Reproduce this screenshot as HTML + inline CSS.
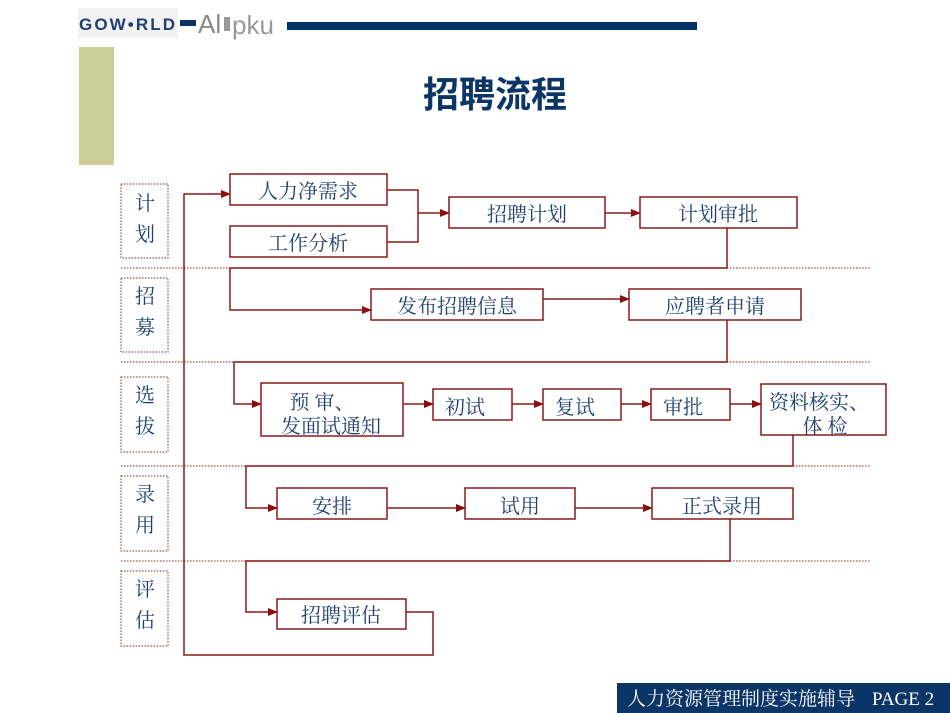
<!DOCTYPE html>
<html><head><meta charset="utf-8"><style>
html,body{margin:0;padding:0;background:#fff;}
svg{display:block;}
text{font-family:"Liberation Serif","Noto Serif CJK SC","Noto Sans CJK SC",serif;}
</style></head><body>
<svg width="950" height="713" viewBox="0 0 950 713" xmlns="http://www.w3.org/2000/svg">
<defs>
<marker id="a" markerWidth="10" markerHeight="8" refX="9" refY="4" orient="auto" markerUnits="userSpaceOnUse">
<path d="M0,0 L10,4 L0,8 z" fill="#8b0f0f"/></marker>
</defs>
<rect x="78" y="8" width="100" height="30" fill="#f2f2f2"/>
<text x="79" y="30" font-weight="bold" font-size="17" fill="#1d3f73" style="font-family:'Liberation Sans',sans-serif" textLength="96">GOW•RLD</text>
<rect x="180" y="20" width="16" height="6" fill="#0b3566"/>
<text x="198" y="33" font-size="26" fill="#888" style="font-family:'Liberation Sans',sans-serif">Al</text>
<rect x="224" y="17" width="6" height="14" fill="#999"/>
<text x="232" y="34" font-size="26" fill="#999" style="font-family:'Liberation Sans',sans-serif">pku</text>
<rect x="287" y="22" width="410" height="8" fill="#003366"/>
<rect x="79" y="47" width="35" height="118" fill="#cccc99"/>
<text x="495" y="107" text-anchor="middle" font-size="36" font-weight="bold" fill="#0b3566" style="font-family:'Liberation Sans','Noto Sans CJK SC',sans-serif">招聘流程</text>
<g stroke="#a05050" stroke-width="1.2" stroke-dasharray="1.5,1.5" fill="none">
<line x1="121" y1="268" x2="870" y2="268"/>
<line x1="121" y1="362" x2="870" y2="362"/>
<line x1="121" y1="466" x2="870" y2="466"/>
<line x1="121" y1="561" x2="870" y2="561"/>
<rect x="121" y="184" width="47" height="74"/>
<rect x="121" y="278" width="47" height="74"/>
<rect x="121" y="377" width="47" height="75"/>
<rect x="121" y="476" width="47" height="75"/>
<rect x="121" y="571" width="47" height="75"/>
</g>
<g font-size="20" fill="#1f3f6f" text-anchor="middle">
<text x="145" y="210">计</text><text x="145" y="241">划</text>
<text x="145" y="303">招</text><text x="145" y="334">募</text>
<text x="145" y="402">选</text><text x="145" y="433">拔</text>
<text x="145" y="501">录</text><text x="145" y="532">用</text>
<text x="145" y="596">评</text><text x="145" y="627">估</text>
</g>
<g stroke="#8b1a1a" stroke-width="1.5" fill="none">
<polyline points="387,190 418,190 418,242 387,242"/>
<line x1="418" y1="213" x2="449" y2="213" marker-end="url(#a)"/>
<line x1="605" y1="213" x2="640" y2="213" marker-end="url(#a)"/>
<polyline points="727,228 727,268 230,268 230,310 371,310" marker-end="url(#a)"/>
<line x1="543" y1="299" x2="629" y2="299" marker-end="url(#a)"/>
<polyline points="727,320 727,362 234,362 234,404 261,404" marker-end="url(#a)"/>
<line x1="403" y1="404" x2="433" y2="404" marker-end="url(#a)"/>
<line x1="512" y1="404" x2="543" y2="404" marker-end="url(#a)"/>
<line x1="621" y1="404" x2="651" y2="404" marker-end="url(#a)"/>
<line x1="730" y1="404" x2="761" y2="404" marker-end="url(#a)"/>
<polyline points="793,435 793,466 246,466 246,508 277,508" marker-end="url(#a)"/>
<line x1="387" y1="508" x2="465" y2="508" marker-end="url(#a)"/>
<line x1="575" y1="508" x2="652" y2="508" marker-end="url(#a)"/>
<polyline points="730,519 730,561 246,561 246,612 277,612" marker-end="url(#a)"/>
<polyline points="406,612 433,612 433,655 184,655 184,194 230,194" marker-end="url(#a)"/>
</g>
<g stroke="#8b1a1a" stroke-width="1.5" fill="#fff">
<rect x="230" y="174" width="157" height="31"/>
<rect x="230" y="226" width="157" height="31"/>
<rect x="449" y="197" width="156" height="31"/>
<rect x="640" y="197" width="157" height="31"/>
<rect x="371" y="289" width="172" height="31"/>
<rect x="629" y="289" width="172" height="31"/>
<rect x="261" y="383" width="142" height="53"/>
<rect x="433" y="389" width="79" height="31"/>
<rect x="543" y="389" width="78" height="31"/>
<rect x="651" y="389" width="79" height="31"/>
<rect x="761" y="384" width="125" height="51"/>
<rect x="277" y="488" width="110" height="31"/>
<rect x="465" y="488" width="110" height="31"/>
<rect x="652" y="488" width="141" height="31"/>
<rect x="277" y="599" width="129" height="30"/>
</g>
<g font-size="20" fill="#1f3f6f" text-anchor="middle">
<text x="308" y="198">人力净需求</text>
<text x="308" y="250">工作分析</text>
<text x="527" y="221">招聘计划</text>
<text x="718" y="221">计划审批</text>
<text x="457" y="313">发布招聘信息</text>
<text x="715" y="313">应聘者申请</text>
<text x="322" y="409">预 审、</text>
<text x="331" y="433">发面试通知</text>
<text x="465" y="414">初试</text>
<text x="575" y="414">复试</text>
<text x="683" y="414">审批</text>
<text x="819" y="409">资料核实、</text>
<text x="825" y="433">体 检</text>
<text x="332" y="513">安排</text>
<text x="520" y="513">试用</text>
<text x="722" y="513">正式录用</text>
<text x="341" y="622">招聘评估</text>
</g>
<rect x="617" y="683" width="333" height="30" fill="#0b3566"/>
<text x="627" y="705" font-size="19" fill="#fff">人力资源管理制度实施辅导</text>
<text x="872" y="705" font-size="19" fill="#fff">PAGE 2</text>
</svg>
</body></html>
